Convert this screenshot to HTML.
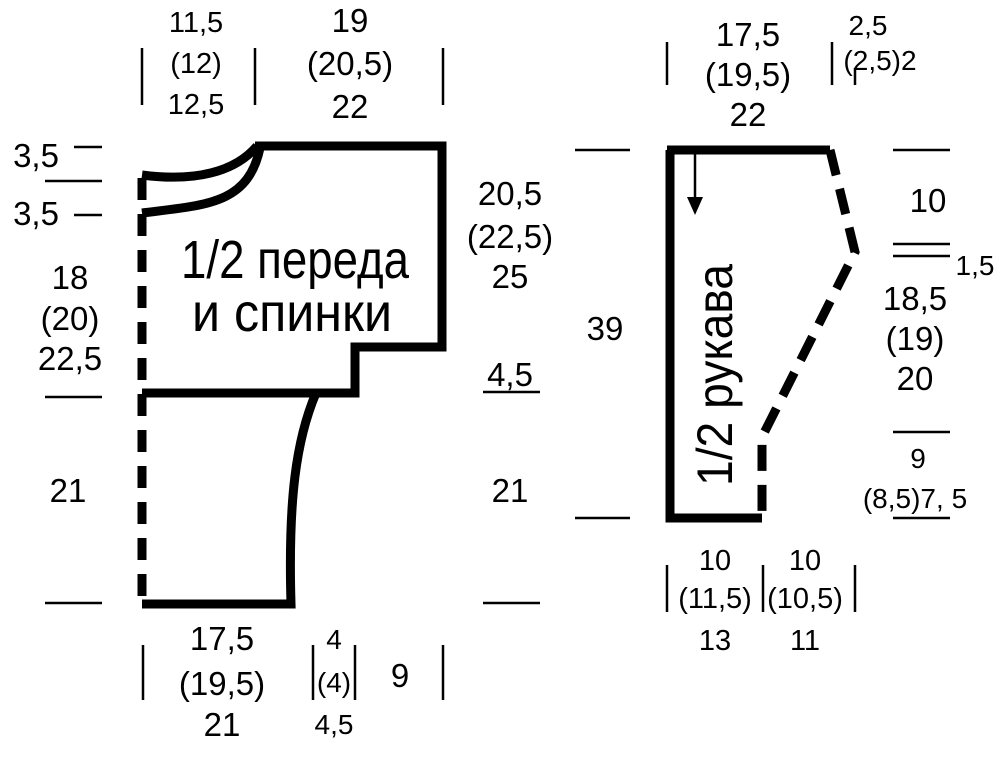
<!DOCTYPE html>
<html><head><meta charset="utf-8"><style>
html,body{margin:0;padding:0;background:#fff;}
svg{display:block;}
text{font-family:"Liberation Sans",sans-serif;fill:#000;text-anchor:middle;}
</style></head><body>
<svg width="1000" height="769" viewBox="0 0 1000 769" xmlns="http://www.w3.org/2000/svg">
<g fill="none" stroke="#000" stroke-width="9" stroke-linejoin="miter">
<path d="M255,146 H442 V347 H355 V393 H142"/>
<path d="M142,175 C195,182 235,172 257,146"/>
<path d="M142,213 C205,205 248,205 260,148"/>
<path d="M316,393 C296,440 288,500 291,604 H142"/>
<path d="M142,178 V604" stroke-dasharray="22,14"/>
<path d="M667,150 H830 M670,150 V518 H762"/>
<path d="M830,150 L855,252 L762,437 L762,518" stroke-dasharray="26,14"/>
</g>
<g stroke="#000" stroke-width="2.5" fill="none">
<path d="M695,152 V205"/>
<path d="M74,147 H102 M45,181 H102 M74,215 H102 M45,397 H102 M45,603 H102"/>
<path d="M142,48 V105 M255,48 V105 M443,48 V105"/>
<path d="M483,392 H540 M483,603 H540"/>
<path d="M143,645 V700 M313,645 V700 M355,645 V700 M443,645 V700"/>
<path d="M667,42 V85 M832,42 V85 M855,68 V85"/>
<path d="M575,150 H630 M575,518 H630"/>
<path d="M893,150 H950 M893,244 H950 M893,256 H950 M893,432 H950 M893,518 H950"/>
<path d="M667,565 V612 M763,565 V612 M855,565 V612"/>
</g>
<path d="M687,197 L703,197 L695,215 Z" fill="#000"/>
<g font-size="33">
<text x="196" y="32" font-size="29">11,5</text>
<text x="196" y="73" font-size="29">(12)</text>
<text x="196" y="114" font-size="29">12,5</text>
<text x="350" y="32">19</text>
<text x="350" y="75">(20,5)</text>
<text x="350" y="118">22</text>
<text x="36" y="167">3,5</text>
<text x="36" y="225">3,5</text>
<text x="70" y="289">18</text>
<text x="70" y="330">(20)</text>
<text x="70" y="370">22,5</text>
<text x="68" y="502">21</text>
<text x="510" y="205">20,5</text>
<text x="510" y="248">(22,5)</text>
<text x="510" y="288">25</text>
<text x="510" y="386">4,5</text>
<text x="510" y="502">21</text>
<text x="222" y="650">17,5</text>
<text x="222" y="695">(19,5)</text>
<text x="222" y="736">21</text>
<text x="334" y="649" font-size="28">4</text>
<text x="334" y="692" font-size="28">(4)</text>
<text x="334" y="734" font-size="28">4,5</text>
<text x="400" y="687">9</text>
<text x="748" y="46">17,5</text>
<text x="748" y="86">(19,5)</text>
<text x="748" y="126">22</text>
<text x="868" y="35" font-size="28">2,5</text>
<text x="880" y="70" font-size="28">(2,5)2</text>
<text x="605" y="340">39</text>
<text x="928" y="212">10</text>
<text x="975" y="275" font-size="28">1,5</text>
<text x="915" y="310">18,5</text>
<text x="915" y="350">(19)</text>
<text x="915" y="390">20</text>
<text x="918" y="468" font-size="28">9</text>
<text x="915" y="508" font-size="28">(8,5)7, 5</text>
<text x="715" y="570" font-size="29">10</text>
<text x="715" y="608" font-size="29">(11,5)</text>
<text x="715" y="650" font-size="29">13</text>
<text x="805" y="570" font-size="29">10</text>
<text x="805" y="608" font-size="29">(10,5)</text>
<text x="805" y="650" font-size="29">11</text>
</g>
<text x="295" y="278" font-size="54" textLength="228" lengthAdjust="spacingAndGlyphs">1/2 переда</text>
<text x="292" y="331" font-size="54" textLength="200" lengthAdjust="spacingAndGlyphs">и спинки</text>
<text transform="translate(732,375) rotate(-90)" font-size="50" textLength="222" lengthAdjust="spacingAndGlyphs">1/2 рукава</text>
</svg>
</body></html>
